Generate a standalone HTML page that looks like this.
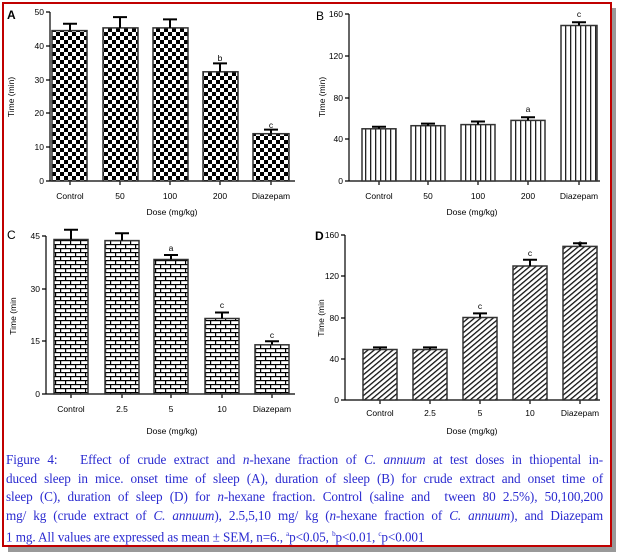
<!DOCTYPE html>
<html><head><meta charset="utf-8"><style>
html,body{margin:0;padding:0;background:#fff;}
body{width:619px;height:555px;position:relative;overflow:hidden;}
#shadow{position:absolute;left:8px;top:8px;width:608px;height:544px;background:#999;}
#frame{position:absolute;left:2px;top:2px;width:606px;height:541px;border:2px solid #c00000;background:#fff;}
svg{position:absolute;left:0;top:0;}
#cap{position:absolute;left:6px;top:451px;width:597px;font-family:"Liberation Serif",serif;font-size:13.2px;line-height:18.6px;color:#2a2ad0;letter-spacing:-0.1px;}
#cap div{text-align:justify;text-align-last:justify;white-space:nowrap;}
#cap div.l{text-align-last:left;}
#cap i{font-style:italic;}
</style></head><body>
<div id="shadow"></div><div id="frame"></div>
<svg width="619" height="555" font-family="Liberation Sans, Arial, sans-serif" font-size="8.5">
<defs>
<pattern id="chk" width="8" height="8" patternUnits="userSpaceOnUse">
<rect width="8" height="8" fill="#fff"/><rect width="4" height="4" fill="#000"/><rect x="4" y="4" width="4" height="4" fill="#000"/>
</pattern>
<pattern id="vst" width="5" height="5" patternUnits="userSpaceOnUse">
<rect width="5" height="5" fill="#fff"/><rect x="0" width="1.3" height="5" fill="#222"/>
</pattern>
<pattern id="brk" width="10" height="8" patternUnits="userSpaceOnUse">
<rect width="10" height="8" fill="#fff"/><rect y="0" width="10" height="1.2" fill="#000"/><rect y="4" width="10" height="1.2" fill="#000"/>
<rect x="0" y="0" width="1.2" height="4" fill="#000"/><rect x="5" y="4" width="1.2" height="4" fill="#000"/>
</pattern>
<pattern id="dia" width="4" height="4" patternUnits="userSpaceOnUse" patternTransform="rotate(-40)">
<rect width="4" height="4" fill="#fff"/><rect width="4" height="1.3" fill="#111"/>
</pattern>
</defs>
<g stroke="#000" stroke-width="1.2" fill="none">
<line x1="50" y1="12" x2="50" y2="181"/><line x1="50" y1="181" x2="295" y2="181"/>
<path d="M46 12H50M46 46H50M46 80H50M46 113H50M46 147H50M46 181H50"/>
<path d="M70 181V185M120 181V185M170 181V185M220 181V185M271 181V185"/>
<line x1="349" y1="14" x2="349" y2="181"/><line x1="349" y1="181" x2="600" y2="181"/>
<path d="M345 14H349M345 56H349M345 98H349M345 139H349M345 181H349"/>
<path d="M379 181V185M428 181V185M478 181V185M528 181V185M579 181V185"/>
<line x1="46" y1="236" x2="46" y2="394"/><line x1="46" y1="394" x2="295" y2="394"/>
<path d="M42 236H46M42 289H46M42 341H46M42 394H46"/>
<path d="M71 394V398M122 394V398M171 394V398M222 394V398M272 394V398"/>
<line x1="345" y1="235" x2="345" y2="400"/><line x1="345" y1="400" x2="600" y2="400"/>
<path d="M341 235H345M341 276H345M341 318H345M341 359H345M341 400H345"/>
<path d="M380 400V404M430 400V404M480 400V404M530 400V404M580 400V404"/>
</g>
<g stroke="#333" stroke-width="1.5">
<rect x="52" y="30.6" width="35" height="150.4" fill="url(#chk)"/>
<rect x="103" y="27.9" width="35" height="153.1" fill="url(#chk)"/>
<rect x="153" y="27.9" width="35" height="153.1" fill="url(#chk)"/>
<rect x="203" y="71.8" width="35" height="109.2" fill="url(#chk)"/>
<rect x="253" y="133.7" width="36" height="47.3" fill="url(#chk)"/>
<rect x="362" y="128.8" width="34" height="52.2" fill="url(#vst)"/>
<rect x="411" y="125.7" width="34" height="55.3" fill="url(#vst)"/>
<rect x="461" y="124.6" width="34" height="56.4" fill="url(#vst)"/>
<rect x="511" y="120.4" width="34" height="60.6" fill="url(#vst)"/>
<rect x="561" y="25.5" width="36" height="155.5" fill="url(#vst)"/>
<rect x="54" y="239.5" width="34" height="154.5" fill="url(#brk)"/>
<rect x="105" y="240.6" width="34" height="153.4" fill="url(#brk)"/>
<rect x="154" y="259.5" width="34" height="134.5" fill="url(#brk)"/>
<rect x="205" y="318.5" width="34" height="75.5" fill="url(#brk)"/>
<rect x="255" y="344.8" width="34" height="49.2" fill="url(#brk)"/>
<rect x="363" y="349.5" width="34" height="50.5" fill="url(#dia)"/>
<rect x="413" y="349.5" width="34" height="50.5" fill="url(#dia)"/>
<rect x="463" y="317.5" width="34" height="82.5" fill="url(#dia)"/>
<rect x="513" y="266" width="34" height="134" fill="url(#dia)"/>
<rect x="563" y="246.4" width="34" height="153.6" fill="url(#dia)"/>
</g>
<g stroke="#000" stroke-width="2" fill="none">
<path d="M70 30.6V23.8M63 23.8H77"/>
<path d="M120 27.9V17.1M113 17.1H127"/>
<path d="M170 27.9V19.4M163 19.4H177"/>
<path d="M220 71.8V63.4M213 63.4H227"/>
<path d="M271 133.7V129.6M264 129.6H278"/>
<path d="M379 128.8V126.7M372 126.7H386"/>
<path d="M428 125.7V123.6M421 123.6H435"/>
<path d="M478 124.6V121.5M471 121.5H485"/>
<path d="M528 120.4V117.3M521 117.3H535"/>
<path d="M579 25.5V22.3M572 22.3H586"/>
<path d="M71 239.5V229.7M64 229.7H78"/>
<path d="M122 240.6V233.2M115 233.2H129"/>
<path d="M171 259.5V255M164 255H178"/>
<path d="M222 318.5V312.5M215 312.5H229"/>
<path d="M272 344.8V341.3M265 341.3H279"/>
<path d="M380 349.5V347.4M373 347.4H387"/>
<path d="M430 349.5V347.4M423 347.4H437"/>
<path d="M480 317.5V313.4M473 313.4H487"/>
<path d="M530 266V259.8M523 259.8H537"/>
<path d="M580 246.4V243.3M573 243.3H587"/>
</g>
<g fill="#000">
<text x="7" y="19" font-size="12" font-weight="bold">A</text>
<text x="316" y="20" font-size="12">B</text>
<text x="7" y="239" font-size="12">C</text>
<text x="315" y="240" font-size="12" font-weight="bold">D</text>
<g text-anchor="end">
<text x="44" y="15">50</text><text x="44" y="49">40</text><text x="44" y="83">30</text><text x="44" y="116">20</text><text x="44" y="150">10</text><text x="44" y="184">0</text>
<text x="343" y="17">160</text><text x="343" y="59">120</text><text x="343" y="101">80</text><text x="343" y="142">40</text><text x="343" y="184">0</text>
<text x="40" y="239">45</text><text x="40" y="292">30</text><text x="40" y="344">15</text><text x="40" y="397">0</text>
<text x="339" y="238">160</text><text x="339" y="279">120</text><text x="339" y="321">80</text><text x="339" y="362">40</text><text x="339" y="403">0</text>
</g>
<g text-anchor="middle">
<text x="70" y="199">Control</text><text x="120" y="199">50</text><text x="170" y="199">100</text><text x="220" y="199">200</text><text x="271" y="199">Diazepam</text>
<text x="379" y="199">Control</text><text x="428" y="199">50</text><text x="478" y="199">100</text><text x="528" y="199">200</text><text x="579" y="199">Diazepam</text>
<text x="71" y="412">Control</text><text x="122" y="412">2.5</text><text x="171" y="412">5</text><text x="222" y="412">10</text><text x="272" y="412">Diazepam</text>
<text x="380" y="416">Control</text><text x="430" y="416">2.5</text><text x="480" y="416">5</text><text x="530" y="416">10</text><text x="580" y="416">Diazepam</text>
<text x="172" y="215">Dose (mg/kg)</text>
<text x="472" y="215">Dose (mg/kg)</text>
<text x="172" y="434">Dose (mg/kg)</text>
<text x="472" y="434">Dose (mg/kg)</text>
<text x="220" y="61">b</text><text x="271" y="128">c</text>
<text x="528" y="112">a</text><text x="579" y="17">c</text>
<text x="171" y="251">a</text><text x="222" y="308">c</text><text x="272" y="338">c</text>
<text x="480" y="309">c</text><text x="530" y="256">c</text><text x="580" y="246">c</text>
</g>
<text transform="translate(14,97) rotate(-90)" text-anchor="middle">Time (min)</text>
<text transform="translate(325,97) rotate(-90)" text-anchor="middle">Time (min)</text>
<text transform="translate(16,316) rotate(-90)" text-anchor="middle">Time (min</text>
<text transform="translate(324,318) rotate(-90)" text-anchor="middle">Time (min</text>
</g>
</svg>
<div id="cap">
<div>Figure 4:&nbsp;&nbsp; Effect of crude extract and <i>n</i>-hexane fraction of <i>C. annuum</i> at test doses in thiopental in-</div>
<div>duced sleep in mice. onset time of sleep (A), duration of sleep (B) for crude extract and onset time of</div>
<div>sleep (C), duration of sleep (D) for <i>n</i>-hexane fraction. Control (saline and&nbsp; tween 80 2.5%), 50,100,200</div>
<div>mg/ kg (crude extract of <i>C. annuum</i>), 2.5,5,10 mg/ kg (<i>n</i>-hexane fraction of <i>C. annuum</i>), and Diazepam</div>
<div class="l">1 mg. All values are expressed as mean ± SEM, n=6., <sup style="font-size:7px">a</sup>p&lt;0.05, <sup style="font-size:7px">b</sup>p&lt;0.01, <sup style="font-size:7px">c</sup>p&lt;0.001</div>
</div>
</body></html>
